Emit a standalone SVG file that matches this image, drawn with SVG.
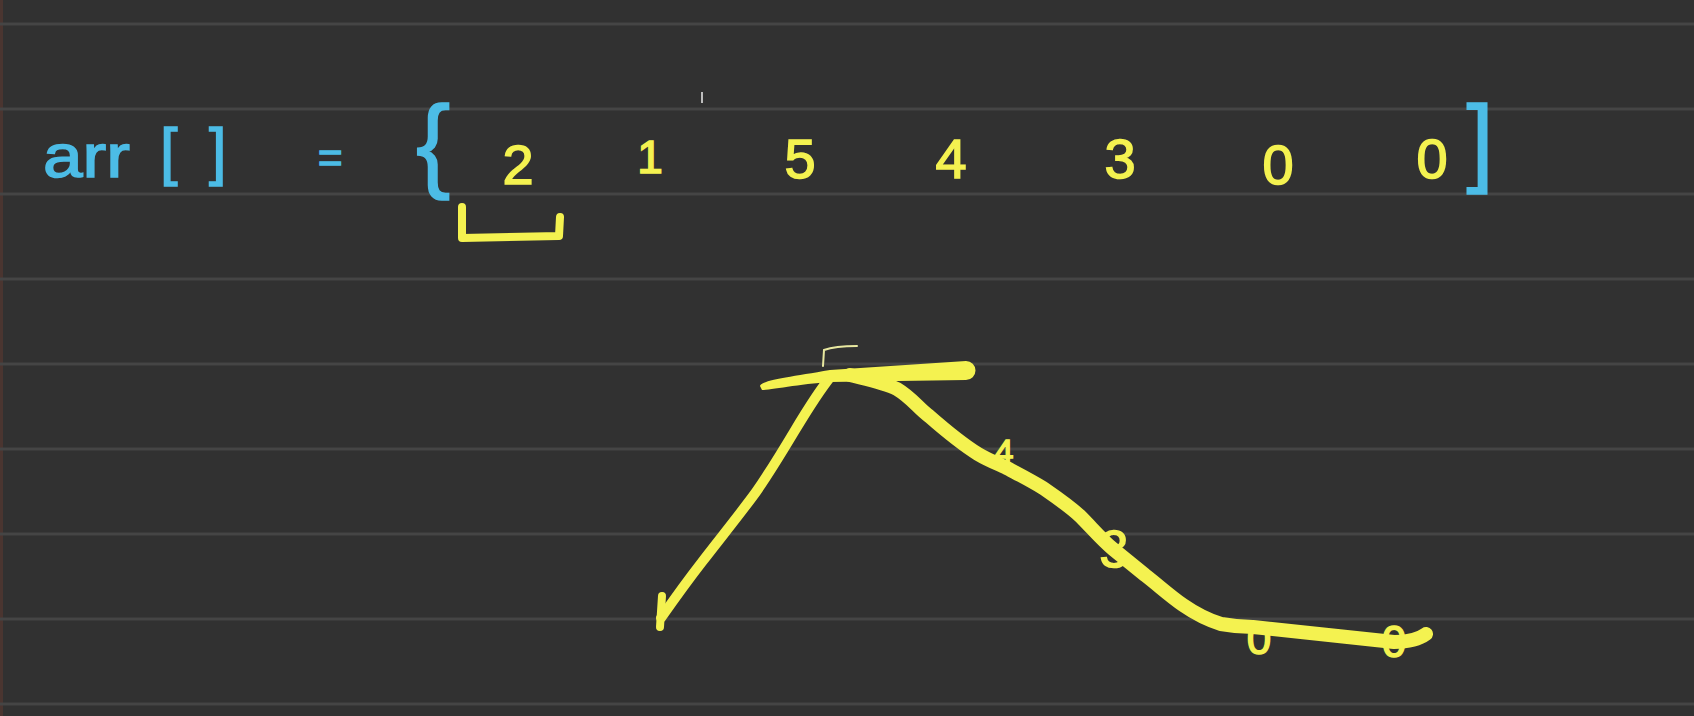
<svg xmlns="http://www.w3.org/2000/svg" width="1694" height="716" viewBox="0 0 1694 716">
<style>
.rule{stroke:#454545;stroke-width:3}
.cy{fill:#4cbce6;stroke:#4cbce6;stroke-width:1.5;font-family:"Liberation Sans",Arial,sans-serif}
.yl{fill:#f4f250;stroke:#f4f250;stroke-width:1.5;font-family:"Liberation Sans",Arial,sans-serif}
.ys{fill:none;stroke:#f4f250;stroke-linecap:round;stroke-linejoin:round}
</style>
<rect width="1694" height="716" fill="#313131"/>
<rect x="0" y="0" width="3" height="716" fill="#4a3530"/>
<g id="rules">
<line class="rule" x1="0" y1="24" x2="1694" y2="24"/>
<line class="rule" x1="0" y1="109" x2="1694" y2="109"/>
<line class="rule" x1="0" y1="194" x2="1694" y2="194"/>
<line class="rule" x1="0" y1="279" x2="1694" y2="279"/>
<line class="rule" x1="0" y1="364" x2="1694" y2="364"/>
<line class="rule" x1="0" y1="449" x2="1694" y2="449"/>
<line class="rule" x1="0" y1="534" x2="1694" y2="534"/>
<line class="rule" x1="0" y1="619" x2="1694" y2="619"/>
<line class="rule" x1="0" y1="704" x2="1694" y2="704"/>
</g>
<g id="array-label">
<text class="cy" x="43" y="177" font-size="62" textLength="87" lengthAdjust="spacingAndGlyphs">arr</text>
<text class="cy" x="160" y="173" font-size="63">[</text>
<text class="cy" x="209" y="173" font-size="63">]</text>
<text class="cy" x="318" y="172" font-size="42">=</text>
<text class="cy" x="416" y="178" font-size="103">{</text>
<text class="cy" x="1480" y="174" font-size="98" text-anchor="middle">]</text>
</g>
<g id="array-values">
<text class="yl" x="518" y="184" font-size="56" text-anchor="middle">2</text>
<text class="yl" x="650" y="173" font-size="46" text-anchor="middle">1</text>
<text class="yl" x="800" y="178" font-size="56" text-anchor="middle">5</text>
<text class="yl" x="951" y="178" font-size="56" text-anchor="middle">4</text>
<text class="yl" x="1120" y="178" font-size="56" text-anchor="middle">3</text>
<text class="yl" x="1278" y="184" font-size="56" text-anchor="middle">0</text>
<text class="yl" x="1432" y="178" font-size="56" text-anchor="middle">0</text>
<line x1="702" y1="92" x2="702" y2="103" stroke="#bdbdbd" stroke-width="2"/>
</g>
<g id="window-bracket">
<path class="ys" d="M462 207 L462 238 L559 236 L560 217" stroke-width="8"/>
</g>
<g id="graph">
<path class="ys" d="M661 618 C675 598 688 580 702 562 C722 536 740 514 756 492 C770 472 782 452 794 432 C806 412 818 392 832 375" stroke-width="10"/>
<path d="M760 386 C762 380 790 377 830 370 L966 361 A9.5 9.5 0 0 1 966 380 L830 382 C800 384 770 390 762 390 Z" fill="#f4f250"/>
<path class="ys" d="M850 375 C870 380 885 383 897 389 C912 398 918 408 929 416 C945 430 962 444 978 454 C988 460 996 463 1005 467 C1018 474 1030 480 1043 488 C1056 497 1068 505 1080 516 C1092 528 1102 540 1113 549 C1124 558 1134 566 1145 575 C1158 585 1170 596 1183 605 C1196 614 1208 620 1221 624 C1232 626 1242 627 1253 627 L1394 642 C1405 642 1418 640 1426 634" stroke-width="14"/>
<line x1="662" y1="596" x2="660" y2="627" stroke="#f4f250" stroke-width="8" stroke-linecap="round"/>
<path d="M823 366 L824 350 C835 346 846 346 857 346" fill="none" stroke="#e8e8a0" stroke-width="2" stroke-linecap="round"/>
<text class="yl" x="1004" y="463" font-size="34" text-anchor="middle">4</text>
<text class="yl" x="1114" y="567" font-size="52" text-anchor="middle">3</text>
<text class="yl" x="1259" y="654" font-size="44" text-anchor="middle">0</text>
<text class="yl" x="1394" y="657" font-size="44" text-anchor="middle">0</text>
</g>
</svg>
